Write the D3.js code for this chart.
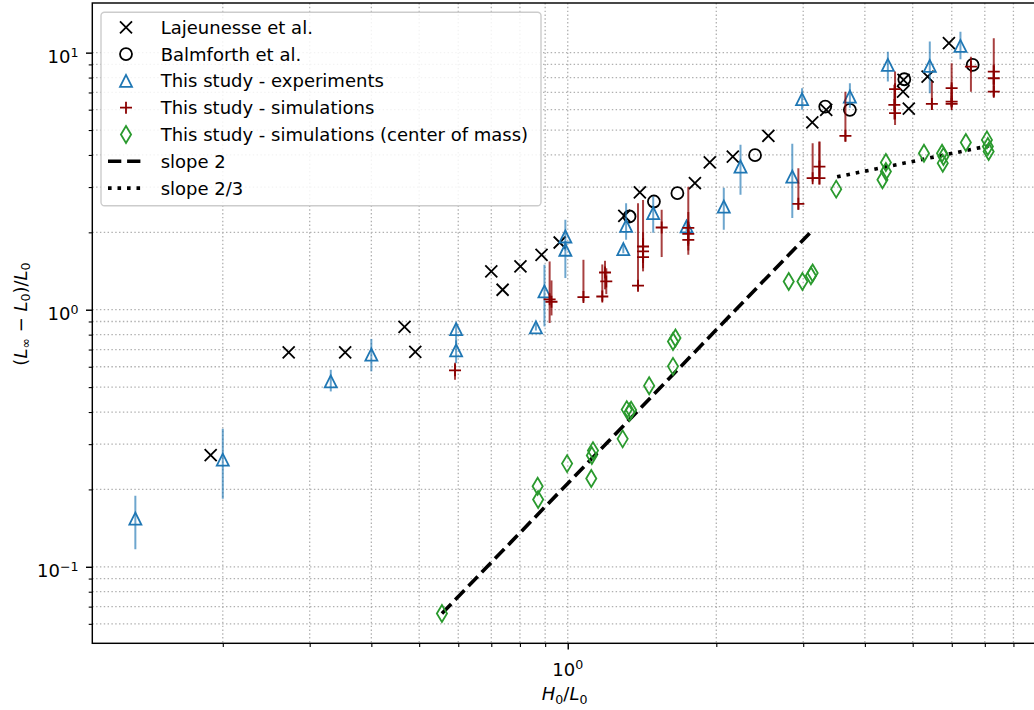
<!DOCTYPE html>
<html>
<head>
<meta charset="utf-8">
<script src="https://cdn.jsdelivr.net/npm/d3@7"></script>
<style>
  body { margin: 0; background: #ffffff; }
  svg { display: block; }
  text { font-family: "DejaVu Sans", sans-serif; fill: #000; }
</style>
</head>
<body>
<svg id="chart" width="1034" height="710"></svg>
<script>
// ---------- data ----------
// Lajeunesse et al.
const lajX = [0.189, 0.272, 0.354, 0.467, 0.491, 0.70, 0.738, 0.802, 0.885, 0.963, 1.302, 1.40, 1.81, 1.94, 2.16, 2.55, 3.13, 3.34, 4.78, 4.79, 4.91, 5.36, 5.92];
const lajY = [0.272, 0.682, 0.682, 0.857, 0.685, 1.41, 1.196, 1.473, 1.636, 1.826, 2.32, 2.86, 3.11, 3.74, 3.94, 4.75, 5.35, 5.99, 7.05, 7.83, 6.06, 8.07, 10.9];

// Balmforth et al.
const balX = [1.334, 1.495, 1.668, 2.396, 3.325, 3.73, 4.808, 6.614];
const balY = [2.305, 2.636, 2.841, 3.993, 6.168, 5.99, 7.88, 8.96];

// This study - experiments (value, lower, upper)
const expX  = [0.133, 0.200, 0.331, 0.400, 0.594, 0.594, 0.862, 0.897, 0.989, 0.989, 1.313, 1.296, 1.490, 1.741, 2.071, 2.239, 2.851, 2.984, 3.730, 4.453, 5.415, 6.248];
const expY  = [0.154, 0.261, 0.526, 0.669, 0.841, 0.695, 0.854, 1.178, 1.927, 1.711, 2.121, 1.721, 2.376, 2.108, 2.520, 3.606, 3.297, 6.590, 6.745, 8.960, 8.880, 10.62];
const expLo = [0.117, 0.184, 0.481, 0.576, 0.74, 0.62, 0.83, 0.861, 1.70, 1.328, 1.87, 1.66, 1.992, 2.02, 2.046, 2.798, 2.272, 5.99, 6.10, 7.72, 6.95, 9.43];
const expHi = [0.189, 0.344, 0.584, 0.770, 0.89, 0.76, 0.88, 1.496, 2.238, 1.85, 2.598, 1.78, 2.756, 2.20, 2.98, 4.378, 4.418, 7.27, 7.605, 10.09, 11.04, 12.07];

// This study - simulations (value, lower, upper)
const simX  = [0.591, 0.919, 0.927, 1.076, 1.175, 1.19, 1.197, 1.388, 1.421, 1.421, 1.421, 1.55, 1.755, 1.755, 1.755, 2.933, 3.135, 3.236, 3.236, 3.653, 4.605, 4.59, 4.605, 5.468, 5.996, 5.996, 5.996, 6.561, 7.299, 7.299, 7.299];
const simY  = [0.581, 1.098, 1.074, 1.12, 1.126, 1.396, 1.288, 1.24, 1.762, 1.686, 1.603, 2.089, 2.083, 1.974, 1.871, 2.582, 3.25, 3.25, 3.606, 4.746, 7.207, 6.262, 5.813, 6.318, 7.272, 6.45, 6.318, 8.825, 8.44, 7.95, 7.05];
const simLo = [0.534, 0.888, 0.95, 1.077, 1.08, 1.20, 1.15, 1.20, 1.55, 1.45, 1.41, 1.603, 1.80, 1.636, 1.70, 2.45, 3.152, 3.06, 3.30, 4.51, 6.2, 5.5, 5.236, 5.99, 6.5, 6.17, 6.17, 7.05, 7.5, 6.745, 6.745];
const simHi = [0.622, 1.541, 1.30, 1.564, 1.50, 1.55, 1.45, 2.598, 2.67, 2.0, 1.9, 2.446, 3.01, 2.40, 2.20, 3.554, 4.445, 4.51, 4.50, 7.053, 8.44, 7.5, 7.0, 7.72, 9.09, 7.5, 7.0, 9.65, 11.38, 9.0, 8.0];

// This study - simulations (center of mass)
const comX = [0.556, 0.869, 0.871, 0.997, 1.116, 1.119, 1.125, 1.292, 1.317, 1.334, 1.344, 1.462, 1.634, 1.634, 1.653, 2.804, 2.989, 3.11, 3.135, 3.499, 4.342, 4.412, 4.412, 5.27, 5.734, 5.753, 5.77, 6.407, 7.069, 7.126, 7.10];
const comY = [0.0658, 0.2057, 0.1826, 0.252, 0.2204, 0.2708, 0.2831, 0.3145, 0.4087, 0.399, 0.4069, 0.5066, 0.6021, 0.7528, 0.7762, 1.288, 1.288, 1.356, 1.389, 2.945, 3.201, 3.448, 3.737, 4.064, 4.064, 3.717, 3.943, 4.469, 4.578, 4.124, 4.312];

// Reference lines (end points)
const slope2X = [0.556, 3.112];
const slope2Y = [0.0658, 2.01];
const slope23X = [3.514, 7.14];
const slope23Y = [3.288, 4.34];

// Axis ticks
const xMajorTicks = [1];
const yMajorTicks = [0.1, 1, 10];
const tickExponent = { 0.1: "\u22121", 1: "0", 10: "1" };

const legendLabels = [
  "Lajeunesse et al.",
  "Balmforth et al.",
  "This study - experiments",
  "This study - simulations",
  "This study - simulations (center of mass)",
  "slope 2",
  "slope 2/3"
];

// ---------- layout ----------
const svg = d3.select("#chart");
const plot = { left: 92.3, right: 1037, top: 3, bottom: 643.3 };

const x = d3.scaleLog().domain([0.1088, 8.93]).range([plot.left, plot.right]);
const y = d3.scaleLog().domain([0.0504, 15.6]).range([plot.bottom, plot.top]);

const C = {
  blue: "#1f77b4",
  red: "#8b0000",
  green: "#2a9a2e",
  grid: "#b0b0b0"
};

// minor tick values inside the domain
function minorTicks(scale) {
  const [a, b] = scale.domain();
  const out = [];
  for (let e = Math.floor(Math.log10(a)); e <= Math.ceil(Math.log10(b)); e++) {
    for (let m = 2; m <= 9; m++) {
      const v = m * Math.pow(10, e);
      if (v >= a && v <= b) out.push(v);
    }
  }
  return out;
}
const xMinor = minorTicks(x);
const yMinor = minorTicks(y);

svg.append("defs").append("clipPath").attr("id", "plotClip")
  .append("rect")
  .attr("x", plot.left).attr("y", plot.top)
  .attr("width", plot.right - plot.left).attr("height", plot.bottom - plot.top);

// ---------- grid ----------
const grid = svg.append("g").attr("class", "grid")
  .attr("stroke", C.grid).attr("stroke-width", 1.3).attr("stroke-dasharray", "1.44 2.38");
[...xMajorTicks, ...xMinor].forEach(v => {
  grid.append("line").attr("x1", x(v)).attr("x2", x(v)).attr("y1", plot.top).attr("y2", plot.bottom);
});
[...yMajorTicks, ...yMinor].forEach(v => {
  grid.append("line").attr("y1", y(v)).attr("y2", y(v)).attr("x1", plot.left).attr("x2", plot.right);
});

// ---------- axes ----------
const xAxisMajor = d3.axisBottom(x).tickValues(xMajorTicks).tickSize(6.3).tickFormat("");
const xAxisMinor = d3.axisBottom(x).tickValues(xMinor).tickSize(3.6).tickFormat("");
const yAxisMajor = d3.axisLeft(y).tickValues(yMajorTicks).tickSize(6.3).tickFormat("");
const yAxisMinor = d3.axisLeft(y).tickValues(yMinor).tickSize(3.6).tickFormat("");

function styleAxis(g, w) {
  g.select(".domain").remove();
  g.selectAll(".tick line").attr("stroke", "#000").attr("stroke-width", w);
}
svg.append("g").attr("transform", `translate(0,${plot.bottom})`).call(xAxisMinor).call(g => styleAxis(g, 1.1));
svg.append("g").attr("transform", `translate(0,${plot.bottom})`).call(xAxisMajor).call(g => styleAxis(g, 1.44));
svg.append("g").attr("transform", `translate(${plot.left},0)`).call(yAxisMinor).call(g => styleAxis(g, 1.1));
svg.append("g").attr("transform", `translate(${plot.left},0)`).call(yAxisMajor).call(g => styleAxis(g, 1.44));

// tick labels as 10^n
function powerLabel(g, v, px, py, anchor) {
  const t = g.append("text").attr("x", px).attr("y", py).attr("text-anchor", anchor)
    .attr("font-size", 18);
  t.append("tspan").text("10");
  t.append("tspan").attr("font-size", 12.6).attr("dy", -6.6).text(tickExponent[v]);
}
const labels = svg.append("g");
xMajorTicks.forEach(v => powerLabel(labels, v, x(v), 676, "middle"));
yMajorTicks.forEach(v => powerLabel(labels, v, 78.5, y(v) + 10.6, "end"));

// axis titles
const xt = svg.append("text").attr("x", (plot.left + plot.right) / 2).attr("y", 700)
  .attr("text-anchor", "middle").attr("font-size", 18);
xt.append("tspan").attr("font-style", "italic").text("H");
xt.append("tspan").attr("font-size", 12.6).attr("dy", 3.6).text("0");
xt.append("tspan").attr("dy", -3.6).text("/");
xt.append("tspan").attr("font-style", "italic").text("L");
xt.append("tspan").attr("font-size", 12.6).attr("dy", 3.6).text("0");

const yt = svg.append("text").attr("transform", "translate(26.5,314) rotate(-90)")
  .attr("text-anchor", "middle").attr("font-size", 18);
yt.append("tspan").text("(");
yt.append("tspan").attr("font-style", "italic").text("L");
yt.append("tspan").attr("font-size", 12.6).attr("dy", 3.6).text("\u221e");
yt.append("tspan").attr("dy", -3.6).text(" \u2212 ");
yt.append("tspan").attr("font-style", "italic").text("L");
yt.append("tspan").attr("font-size", 12.6).attr("dy", 3.6).text("0");
yt.append("tspan").attr("dy", -3.6).text(")/");
yt.append("tspan").attr("font-style", "italic").text("L");
yt.append("tspan").attr("font-size", 12.6).attr("dy", 3.6).text("0");

// ---------- marker shapes ----------
const MS = 12;
function drawMarker(g, kind, cx, cy, color) {
  const h = MS / 2;
  if (kind === "x") {
    g.append("path").attr("d", `M${cx - h},${cy - h}L${cx + h},${cy + h}M${cx - h},${cy + h}L${cx + h},${cy - h}`)
      .attr("stroke", color).attr("stroke-width", 1.8).attr("fill", "none");
  } else if (kind === "o") {
    g.append("circle").attr("cx", cx).attr("cy", cy).attr("r", h)
      .attr("stroke", color).attr("stroke-width", 1.8).attr("fill", "none");
  } else if (kind === "^") {
    g.append("path").attr("d", `M${cx},${cy - h}L${cx - h},${cy + h}L${cx + h},${cy + h}Z`)
      .attr("stroke", color).attr("stroke-width", 1.8).attr("fill", "none").attr("stroke-linejoin", "miter");
  } else if (kind === "+") {
    g.append("path").attr("d", `M${cx - h},${cy}L${cx + h},${cy}M${cx},${cy - h}L${cx},${cy + h}`)
      .attr("stroke", color).attr("stroke-width", 1.8).attr("fill", "none");
  } else if (kind === "d") {
    const dh = MS * Math.SQRT1_2, dw = 0.6 * MS * Math.SQRT1_2;
    g.append("path").attr("d", `M${cx},${cy - dh}L${cx + dw},${cy}L${cx},${cy + dh}L${cx - dw},${cy}Z`)
      .attr("stroke", color).attr("stroke-width", 1.8).attr("fill", "none");
  }
}

const marks = svg.append("g").attr("clip-path", "url(#plotClip)");

// reference lines
const line = d3.line().x(d => x(d[0])).y(d => y(d[1]));
marks.append("path").datum(d3.zip(slope2X, slope2Y)).attr("d", line)
  .attr("fill", "none").attr("stroke", "#000").attr("stroke-width", 3.6).attr("stroke-dasharray", "13.3 5.8");
marks.append("path").datum(d3.zip(slope23X, slope23Y)).attr("d", line)
  .attr("fill", "none").attr("stroke", "#000").attr("stroke-width", 3.6).attr("stroke-dasharray", "3.6 5.9");

// Lajeunesse
const gL = marks.append("g");
lajX.forEach((v, i) => drawMarker(gL, "x", x(v), y(lajY[i]), "#000"));

// Balmforth
const gB = marks.append("g");
balX.forEach((v, i) => drawMarker(gB, "o", x(v), y(balY[i]), "#000"));

// experiments with error bars
const gE = marks.append("g");
expX.forEach((v, i) => {
  gE.append("line").attr("x1", x(v)).attr("x2", x(v)).attr("y1", y(expLo[i])).attr("y2", y(expHi[i]))
    .attr("stroke", C.blue).attr("stroke-opacity", 0.65).attr("stroke-width", 2);
});
expX.forEach((v, i) => drawMarker(gE, "^", x(v), y(expY[i]), C.blue));

// simulations with error bars
const gS = marks.append("g");
simX.forEach((v, i) => {
  gS.append("line").attr("x1", x(v)).attr("x2", x(v)).attr("y1", y(simLo[i])).attr("y2", y(simHi[i]))
    .attr("stroke", C.red).attr("stroke-opacity", 0.75).attr("stroke-width", 2);
});
simX.forEach((v, i) => drawMarker(gS, "+", x(v), y(simY[i]), C.red));

// center of mass
const gC = marks.append("g");
comX.forEach((v, i) => drawMarker(gC, "d", x(v), y(comY[i]), C.green));

// ---------- frame ----------
svg.append("rect").attr("x", plot.left).attr("y", plot.top)
  .attr("width", plot.right - plot.left).attr("height", plot.bottom - plot.top)
  .attr("fill", "none").attr("stroke", "#000").attr("stroke-width", 1.44);

// ---------- legend ----------
const lg = svg.append("g");
lg.append("rect").attr("x", 101).attr("y", 12.3).attr("width", 440).attr("height", 193.4)
  .attr("rx", 3.5).attr("fill", "#fff").attr("fill-opacity", 0.85)
  .attr("stroke", "#cccccc").attr("stroke-width", 1.4);
const kinds = ["x", "o", "^", "+", "d"];
const kindColors = ["#000", "#000", C.blue, C.red, C.green];
legendLabels.forEach((lab, i) => {
  const cy = 27.3 + i * 26.8;
  if (i < 5) {
    drawMarker(lg, kinds[i], 126, cy, kindColors[i]);
  } else {
    lg.append("line").attr("x1", 108).attr("x2", 144).attr("y1", cy).attr("y2", cy)
      .attr("stroke", "#000").attr("stroke-width", 3.6)
      .attr("stroke-dasharray", i === 5 ? "13.3 5.8" : "3.6 5.9");
  }
  lg.append("text").attr("x", 160.7).attr("y", cy + 6.5).attr("font-size", 18).text(lab);
});
</script>
</body>
</html>
